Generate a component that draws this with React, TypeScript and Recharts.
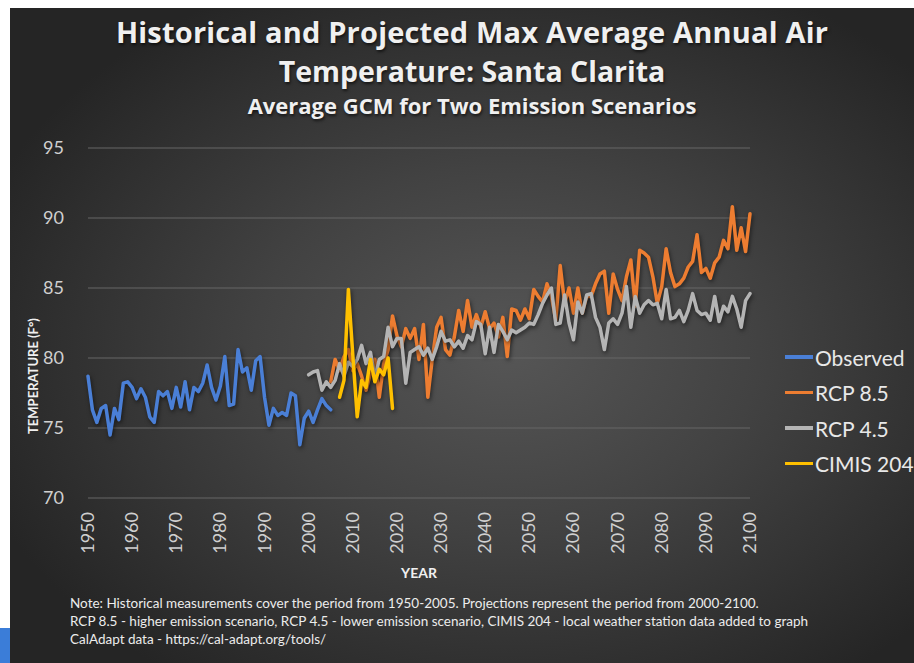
import React from "react";
import { LineChart, Line, XAxis, YAxis, CartesianGrid } from "recharts";

// max average annual air temperature, °F
const OBS_START = 1950;
const observed = [
  78.7, 76.3, 75.4, 76.4, 76.6, 74.5, 76.4, 75.6, 78.2, 78.3,
  77.9, 77.1, 77.8, 77.2, 75.8, 75.4, 77.6, 77.3, 77.6, 76.4,
  77.9, 76.5, 78.3, 76.3, 77.9, 77.6, 78.2, 79.5, 77.9, 77.0,
  78.0, 80.1, 76.6, 76.7, 80.6, 79.0, 79.3, 77.7, 79.8, 80.1,
  77.2, 75.2, 76.4, 75.9, 76.1, 75.9, 77.5, 77.3, 73.8, 75.7,
  76.2, 75.4, 76.3, 77.1, 76.6, 76.3,
];

const RCP85_START = 2005;
const rcp85 = [
  78.3, 79.9, 79.1, 80.1, 80.6,
  79.1, 79.6, 78.7, 77.7, 78.9, 79.9, 77.2, 79.6, 80.6, 83.0,
  81.6, 80.8, 82.1, 81.4, 82.1, 79.9, 82.4, 77.2, 79.9, 82.2,
  82.9, 80.6, 80.2, 81.5, 83.4, 81.9, 84.1, 82.2, 83.1, 82.2,
  83.3, 82.1, 82.5, 81.5, 82.9, 80.1, 83.5, 83.4, 82.7, 83.5,
  82.8, 84.9, 84.4, 84.0, 85.3, 84.4, 82.7, 86.6, 83.9, 85.0,
  83.2, 85.0, 83.2, 84.4, 84.4, 85.3, 86.0, 86.2, 83.2, 86.0,
  84.9, 84.1, 85.8, 87.0, 83.7, 87.7, 87.5, 87.2, 85.8, 83.9,
  85.1, 87.8, 86.1, 85.1, 85.3, 85.7, 86.5, 86.9, 88.8, 86.1,
  86.4, 85.7, 86.8, 87.2, 88.4, 87.8, 90.8, 87.7, 89.3, 87.6,
  90.3,
];

const RCP45_START = 2000;
const rcp45 = [
  78.8, 79.0, 79.1, 77.7, 78.3, 77.9, 78.4, 79.6, 78.7, 79.7,
  79.4, 79.9, 80.9, 79.6, 80.4, 78.6, 79.9, 80.1, 82.2, 80.8,
  81.4, 81.4, 78.2, 80.4, 80.6, 80.8, 80.2, 80.7, 79.9, 80.8,
  81.9, 81.2, 81.3, 80.8, 81.2, 80.7, 81.6, 81.3, 82.6, 82.4,
  80.3, 82.2, 80.4, 82.4, 81.9, 81.3, 82.0, 81.8, 82.0, 82.2,
  82.5, 82.4, 83.1, 83.9, 84.5, 85.0, 82.4, 82.5, 84.5, 82.5,
  81.3, 84.0, 83.2, 84.5, 84.6, 82.9, 82.2, 80.6, 82.5, 82.8,
  82.4, 83.2, 85.1, 82.2, 84.4, 83.2, 83.8, 84.1, 83.8, 83.9,
  82.8, 84.9, 82.8, 82.9, 83.4, 82.6, 83.4, 84.6, 83.4, 83.1,
  83.2, 82.7, 84.4, 82.6, 83.7, 83.3, 84.4, 83.5, 82.2, 84.1,
  84.6,
];

const CIMIS_START = 2007;
const cimis = [77.2, 78.4, 84.9, 80.2, 75.8, 78.4, 77.9, 79.9, 78.3, 79.2, 78.8, 80.0, 76.4];

const yearTicks = [1950, 1960, 1970, 1980, 1990, 2000, 2010, 2020, 2030, 2040, 2050, 2060, 2070, 2080, 2090, 2100];
const tempTicks = [70, 75, 80, 85, 90, 95];

const series = [
  { key: "obs", name: "Observed", color: "#4a7fd6" },
  { key: "rcp85", name: "RCP 8.5", color: "#ed7d31" },
  { key: "rcp45", name: "RCP 4.5", color: "#b4b4b4" },
  { key: "cimis", name: "CIMIS 204", color: "#ffc000" },
];

const pick = (arr: number[], start: number, year: number) => {
  const i = year - start;
  return i >= 0 && i < arr.length ? arr[i] : undefined;
};

const data = [] as any[];
for (let y = 1950; y <= 2100; y++) {
  data.push({
    year: y,
    obs: pick(observed, OBS_START, y),
    rcp85: pick(rcp85, RCP85_START, y),
    rcp45: pick(rcp45, RCP45_START, y),
    cimis: pick(cimis, CIMIS_START, y),
  });
}

const FONT = "Lato, 'Open Sans', sans-serif";
const TITLE_FONT = "'Open Sans', Lato, sans-serif";
const TICK = "#d0d0d0";

const YearTick = (props: any) => {
  const { x, y, payload } = props;
  const ty = y + 14;
  return (
    <text x={x} y={ty} dy={6} transform={`rotate(-90 ${x} ${ty})`} textAnchor="end"
      fill={TICK} fontSize={18} fontFamily={FONT}>
      {payload.value}
    </text>
  );
};

export default function App() {
  return (
    <div style={{ position: "absolute", left: 0, top: 0, width: 914, height: 663, background: "#fff", overflow: "hidden", fontFamily: FONT }}>
      <style>{`.recharts-line-curve { filter: drop-shadow(1px 2px 2px rgba(0,0,0,0.55)); }`}</style>
      <div style={{
        position: "absolute", left: 10, top: 8, width: 904, height: 655,
        background: "radial-gradient(ellipse 62% 62% at 55% 52%, #565656 0%, #424242 45%, #252525 100%)",
      }} />
      <div style={{ position: "absolute", left: 0, top: 628, width: 10, height: 35, background: "#3b7dd8" }} />

      <div style={{ position: "absolute", left: 0, top: 0, width: 944, textAlign: "center", color: "#f0f0f0", textShadow: "1px 2px 3px rgba(0,0,0,0.6)", fontWeight: 700, fontFamily: TITLE_FONT }}>
        <div style={{ position: "absolute", left: 0, width: 944, top: 13, fontSize: 29, lineHeight: "38px", letterSpacing: 0.2 }}>
          Historical and Projected Max Average Annual Air
        </div>
        <div style={{ position: "absolute", left: 0, width: 944, top: 52, fontSize: 28.5, lineHeight: "38px" }}>
          Temperature: Santa Clarita
        </div>
        <div style={{ position: "absolute", left: 0, width: 944, top: 91, fontSize: 22, lineHeight: "28px" }}>
          Average GCM for Two Emission Scenarios
        </div>
      </div>

      <LineChart width={914} height={663} data={data}
        margin={{ top: 148, right: 164, left: 28, bottom: 105 }}
        style={{ position: "absolute", left: 0, top: 0 }}>
        <CartesianGrid vertical={false} stroke="#676767" strokeWidth={1} />
        <XAxis dataKey="year" type="number" domain={[1950, 2100]} ticks={yearTicks}
          axisLine={false} tickLine={false} tickSize={0} tickMargin={0} height={60}
          tick={<YearTick />} interval={0} />
        <YAxis type="number" domain={[70, 95]} ticks={tempTicks} width={60}
          axisLine={false} tickLine={false} tickSize={0} tickMargin={24}
          tick={{ fill: TICK, fontSize: 18, fontFamily: FONT }} />
        {series.map(s => (
          <Line key={s.key} dataKey={s.key} name={s.name} type="linear" stroke={s.color}
            strokeWidth={3.5} dot={false} activeDot={false} strokeLinejoin="round"
            strokeLinecap="round" isAnimationActive={false} />
        ))}
      </LineChart>

      <div style={{
        position: "absolute", left: 33, top: 376, transform: "translate(-50%, -50%) rotate(-90deg)",
        whiteSpace: "nowrap", color: "#f0f0f0", fontWeight: 700, fontSize: 13,
      }}>
        TEMPERATURE (F°)
      </div>
      <div style={{
        position: "absolute", left: 419, top: 572, transform: "translate(-50%, -50%)",
        color: "#f0f0f0", fontWeight: 700, fontSize: 14,
      }}>
        YEAR
      </div>

      <div style={{ position: "absolute", left: 785, top: 339 }}>
        {series.map((s, i) => (
          <div key={s.key} style={{ position: "absolute", left: 0, top: i * 35.5, height: 36, display: "flex", alignItems: "center", whiteSpace: "nowrap" }}>
            <span style={{ display: "inline-block", width: 28, height: 3.5, background: s.color, marginRight: 2 }} />
            <span style={{ color: "#e8e8e8", fontSize: 21 }}>{s.name}</span>
          </div>
        ))}
      </div>

      <div style={{ position: "absolute", left: 70, top: 594, color: "#ececec", fontSize: 13.5, lineHeight: "18px", whiteSpace: "nowrap" }}>
        <div>Note: Historical measurements cover the period from 1950-2005. Projections represent the period from 2000-2100.</div>
        <div>RCP 8.5 - higher emission scenario, RCP 4.5 - lower emission scenario, CIMIS 204 - local weather station data added to graph</div>
        <div>CalAdapt data - https://cal-adapt.org/tools/</div>
      </div>
    </div>
  );
}
